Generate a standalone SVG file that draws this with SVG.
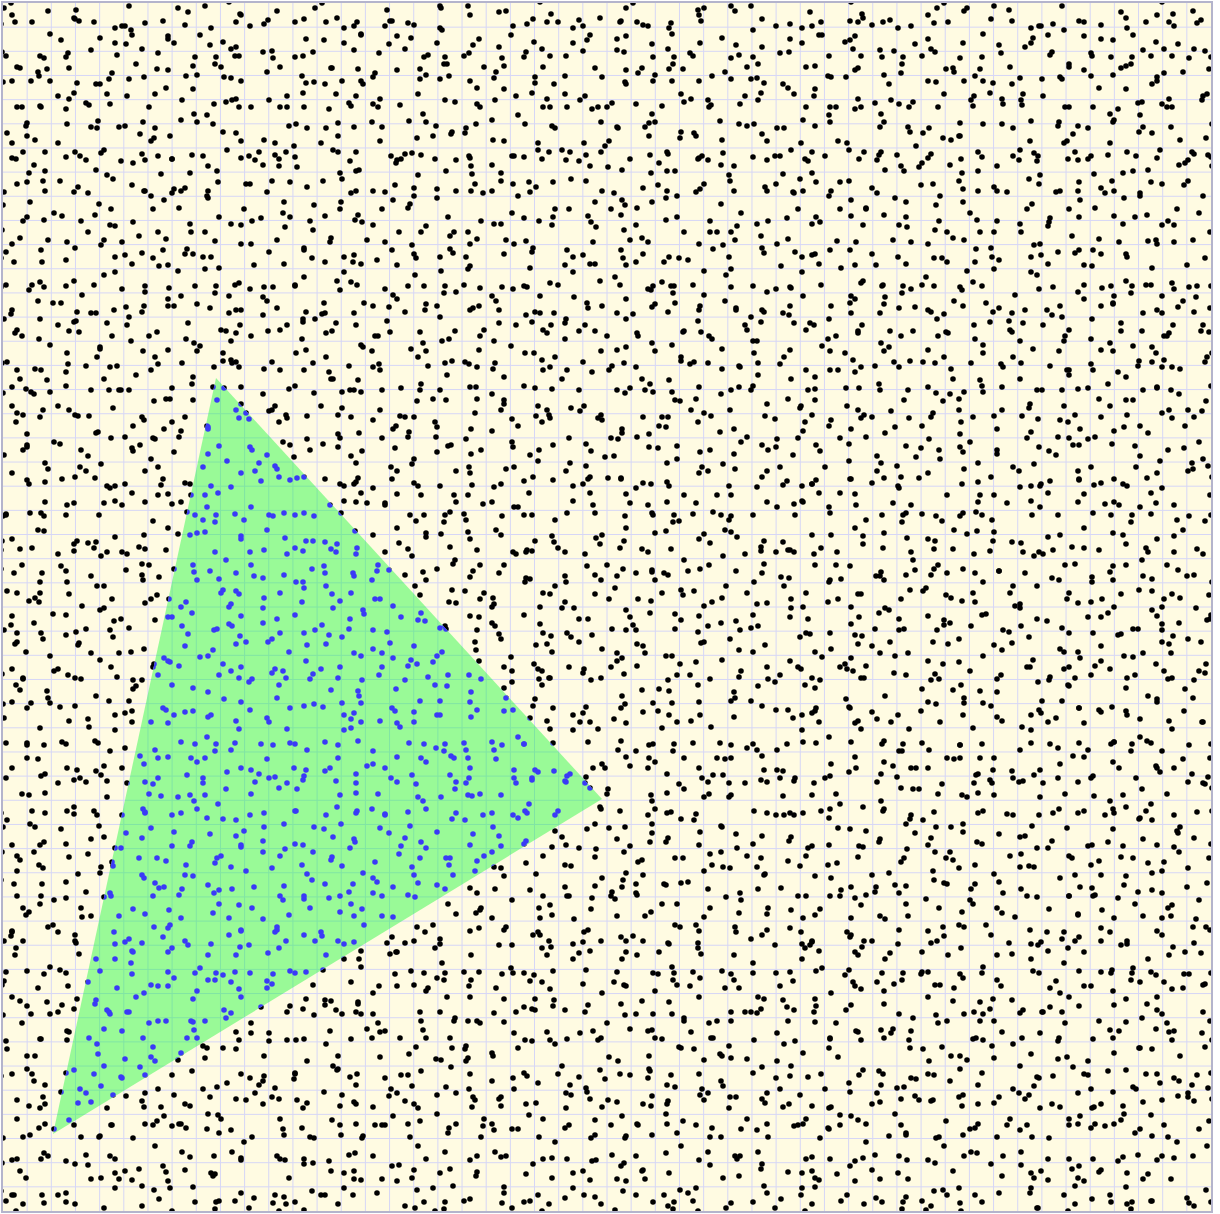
<svg xmlns="http://www.w3.org/2000/svg" xmlns:xlink="http://www.w3.org/1999/xlink" width="1220" height="1214" viewBox="0 0 1220 1214">
<style>
.dot{fill:none;stroke-linecap:round;stroke-width:5.6}
.grid{fill:none;stroke:#d6d6f6;stroke-width:1}
</style>
<defs>
<path id="da" class="dot" d="M9 12h0M45 8h0M72 16h0M112 25h0M122 23h0M160 18h0M182 22h0M208 25h0M3 53h0M41 55h0M63 54h0M112 40h0M129 32h0M165 33h0M192 54h0M213 54h0M9 78h0M35 69h0M74 80h0M93 81h0M141 74h0M165 67h0M194 72h0M212 61h0M19 104h0M55 93h0M71 90h0M104 91h0M124 93h0M146 104h0M191 111h0M223 99h0M4 130h0M32 137h0M64 121h0M94 125h0M140 119h0M148 138h0M194 119h0M220 129h0M9 155h0M31 162h0M63 154h0M101 147h0M118 158h0M169 156h0M189 152h0M214 168h0M14 181h0M40 178h0M75 184h0M110 176h0M141 188h0M161 197h0M182 185h0M205 195h0M20 218h0M51 210h0M78 218h0M108 206h0M130 219h0M150 206h0M176 205h0M216 214h0"/>
<path id="db" class="dot" d="M16 19h0M36 13h0M60 14h0M105 4h0M132 10h0M164 14h0M182 10h0M230 17h0M254 17h0M8 53h0M41 37h0M69 37h0M104 48h0M120 46h0M163 34h0M191 51h0M225 53h0M239 36h0M25 62h0M46 80h0M83 73h0M92 64h0M122 69h0M158 76h0M199 66h0M229 69h0M236 62h0M10 91h0M38 103h0M82 95h0M101 106h0M124 99h0M158 101h0M200 94h0M217 102h0M240 92h0M12 126h0M45 125h0M60 135h0M108 142h0M141 142h0M155 142h0M181 134h0M211 128h0M240 127h0M17 152h0M54 150h0M72 152h0M103 168h0M137 159h0M153 167h0M201 154h0M219 162h0M254 160h0M24 191h0M44 195h0M72 199h0M95 196h0M128 181h0M155 179h0M200 199h0M214 197h0M245 195h0M11 213h0M41 223h0M76 217h0M92 222h0M124 216h0M160 218h0M186 220h0M213 225h0M253 229h0M19 241h0M50 257h0M62 246h0M107 242h0M136 249h0M171 240h0M181 251h0M230 240h0M252 249h0"/>
<path id="dc" class="dot" d="M11 13h0M48 22h0M80 18h0M103 25h0M116 5h0M148 3h0M186 22h0M206 5h0M241 17h0M270 4h0M291 21h0M16 47h0M38 36h0M73 49h0M111 32h0M119 39h0M152 34h0M193 35h0M211 51h0M238 52h0M259 36h0M308 38h0M9 62h0M46 71h0M73 72h0M104 60h0M116 82h0M149 83h0M194 65h0M222 64h0M241 64h0M260 82h0M300 62h0M5 109h0M35 111h0M61 103h0M87 98h0M119 90h0M167 90h0M187 111h0M218 106h0M231 89h0M280 88h0M289 104h0M20 117h0M38 139h0M83 139h0M107 133h0M139 135h0M155 138h0M174 129h0M218 119h0M236 135h0M271 139h0M292 136h0M25 143h0M41 157h0M70 156h0M98 165h0M135 143h0M159 149h0M177 150h0M220 156h0M236 154h0M277 143h0M298 158h0M25 174h0M52 176h0M61 174h0M87 179h0M124 192h0M164 185h0M194 188h0M221 185h0M236 174h0M265 175h0M290 187h0M19 219h0M46 222h0M70 207h0M95 224h0M121 208h0M165 210h0M193 213h0M211 221h0M235 203h0M279 215h0M306 209h0M22 236h0M39 249h0M73 237h0M99 251h0M134 248h0M164 247h0M192 241h0M205 245h0M233 245h0M257 243h0M292 228h0M25 275h0M49 271h0M61 279h0M109 279h0M119 266h0M143 280h0M184 260h0M220 273h0M231 265h0M273 278h0M295 258h0M9 300h0M48 289h0M68 306h0M109 296h0M120 308h0M157 291h0M195 302h0M202 297h0M244 286h0M267 304h0M305 293h0"/>
<pattern id="pa" patternUnits="userSpaceOnUse" x="3" y="3" width="229" height="229"><use href="#da" stroke="#000"/></pattern>
<pattern id="pb" patternUnits="userSpaceOnUse" x="50" y="90" width="263" height="263"><use href="#db" stroke="#000"/></pattern>
<pattern id="pc" patternUnits="userSpaceOnUse" x="120" y="17" width="311" height="311"><use href="#dc" stroke="#000"/></pattern>
<pattern id="pa2" patternUnits="userSpaceOnUse" x="3" y="3" width="229" height="229"><use href="#da" stroke="#3a3af6"/></pattern>
<pattern id="pb2" patternUnits="userSpaceOnUse" x="50" y="90" width="263" height="263"><use href="#db" stroke="#3a3af6"/></pattern>
<pattern id="pc2" patternUnits="userSpaceOnUse" x="120" y="17" width="311" height="311"><use href="#dc" stroke="#3a3af6"/></pattern>
<clipPath id="outside"><path clip-rule="evenodd" d="M0 0H1220V1214H0Z M216 378L53 1134L602 799Z"/></clipPath>
<clipPath id="inside"><path d="M216 378L602 799L53 1134Z"/></clipPath>
</defs>
<g id="background">
<rect x="2" y="2" width="1210" height="1210" fill="#fffbe2"/>
</g>
<g id="grid">
<path class="grid" d="M27.16 3V1211M51.32 3V1211M75.48 3V1211M99.64 3V1211M123.8 3V1211M147.96 3V1211M172.12 3V1211M196.28 3V1211M220.44 3V1211M244.6 3V1211M268.76 3V1211M292.92 3V1211M317.08 3V1211M341.24 3V1211M365.4 3V1211M389.56 3V1211M413.72 3V1211M437.88 3V1211M462.04 3V1211M486.2 3V1211M510.36 3V1211M534.52 3V1211M558.68 3V1211M582.84 3V1211M607 3V1211M631.16 3V1211M655.32 3V1211M679.48 3V1211M703.64 3V1211M727.8 3V1211M751.96 3V1211M776.12 3V1211M800.28 3V1211M824.44 3V1211M848.6 3V1211M872.76 3V1211M896.92 3V1211M921.08 3V1211M945.24 3V1211M969.4 3V1211M993.56 3V1211M1017.72 3V1211M1041.88 3V1211M1066.04 3V1211M1090.2 3V1211M1114.36 3V1211M1138.52 3V1211M1162.68 3V1211M1186.84 3V1211M3 27.16H1211M3 51.32H1211M3 75.48H1211M3 99.64H1211M3 123.8H1211M3 147.96H1211M3 172.12H1211M3 196.28H1211M3 220.44H1211M3 244.6H1211M3 268.76H1211M3 292.92H1211M3 317.08H1211M3 341.24H1211M3 365.4H1211M3 389.56H1211M3 413.72H1211M3 437.88H1211M3 462.04H1211M3 486.2H1211M3 510.36H1211M3 534.52H1211M3 558.68H1211M3 582.84H1211M3 607H1211M3 631.16H1211M3 655.32H1211M3 679.48H1211M3 703.64H1211M3 727.8H1211M3 751.96H1211M3 776.12H1211M3 800.28H1211M3 824.44H1211M3 848.6H1211M3 872.76H1211M3 896.92H1211M3 921.08H1211M3 945.24H1211M3 969.4H1211M3 993.56H1211M3 1017.72H1211M3 1041.88H1211M3 1066.04H1211M3 1090.2H1211M3 1114.36H1211M3 1138.52H1211M3 1162.68H1211M3 1186.84H1211"/>
</g>
<g id="triangle">
<path d="M216 378L602 799L53 1134Z" fill="#00fb28" fill-opacity="0.4"/>
</g>
<g id="points-outside" clip-path="url(#outside)">
<rect x="3" y="3" width="1208" height="1208" fill="url(#pa)"/>
<rect x="3" y="3" width="1208" height="1208" fill="url(#pb)"/>
<rect x="3" y="3" width="1208" height="1208" fill="url(#pc)"/>
</g>
<g id="points-inside" clip-path="url(#inside)">
<rect x="3" y="3" width="1208" height="1208" fill="url(#pa2)"/>
<rect x="3" y="3" width="1208" height="1208" fill="url(#pb2)"/>
<rect x="3" y="3" width="1208" height="1208" fill="url(#pc2)"/>
</g>
<g id="border">
<rect x="2" y="2" width="1210" height="1210" fill="none" stroke="#b4b4cc" stroke-width="2"/>
</g>
</svg>
